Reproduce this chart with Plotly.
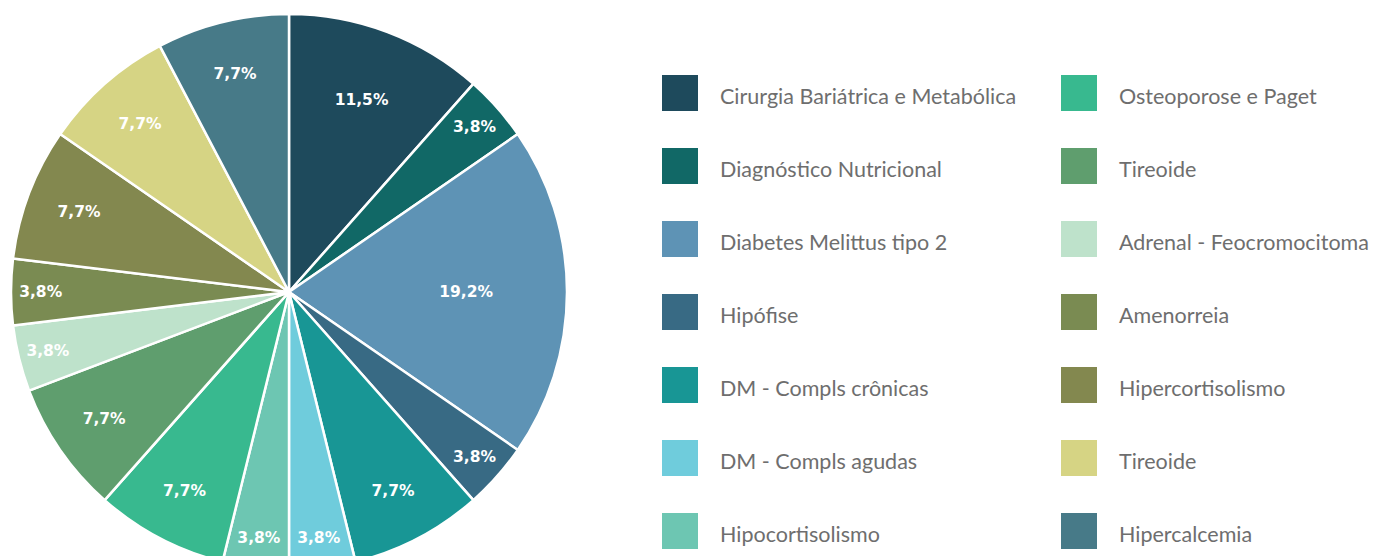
import plotly.graph_objects as go

# data (clockwise from 12 o'clock)
categories = [
    "Cirurgia Bariátrica e Metabólica",
    "Diagnóstico Nutricional",
    "Diabetes Melittus tipo 2",
    "Hipófise",
    "DM - Compls crônicas",
    "DM - Compls agudas",
    "Hipocortisolismo",
    "Osteoporose e Paget",
    "Tireoide",
    "Adrenal - Feocromocitoma",
    "Amenorreia",
    "Hipercortisolismo",
    "Tireoide ",
    "Hipercalcemia",
]
counts = [3, 1, 5, 1, 2, 1, 1, 2, 2, 1, 1, 2, 2, 2]
colors = [
    "#1e4a5c", "#116866", "#5e93b5", "#386a84", "#189695", "#6fccdc", "#6dc6b2",
    "#38b98f", "#5f9e6e", "#bee2cb", "#7a8b52", "#83884f", "#d6d484", "#477a88",
]

# page has an 8px body margin; the pie runs off the bottom of the window
W, H = 1381, 570
px = lambda x: x / W
py = lambda y: 1 - y / H

fig = go.Figure()
fig.add_trace(go.Pie(
    labels=categories,
    values=counts,
    sort=False,
    direction="clockwise",
    rotation=0,
    marker=dict(colors=colors, line=dict(color="white", width=2.5)),
    texttemplate="%{percent:.1%}",
    textposition="inside",
    insidetextorientation="horizontal",
    textfont=dict(family="DejaVu Sans", size=15.5, color="white", weight="bold"),
    domain=dict(x=[px(3), px(559)], y=[py(562), py(6)]),
    showlegend=False,
    hoverinfo="label+percent",
))

# legend drawn as two columns of swatches + labels
col_x = [654, 1053]
row_y0, row_dy, n_rows = 85, 73, 7
shapes, annotations = [], []
for i, (name, c) in enumerate(zip(categories, colors)):
    col, row = divmod(i, n_rows)
    x0 = col_x[col]
    yc = row_y0 + row * row_dy
    shapes.append(dict(type="rect", xref="paper", yref="paper",
                       x0=px(x0), x1=px(x0 + 36), y0=py(yc + 18), y1=py(yc - 18),
                       fillcolor=c, line=dict(width=0)))
    annotations.append(dict(text=name.strip(), xref="paper", yref="paper",
                            x=px(x0 + 56), y=py(yc + 3), xanchor="left", yanchor="middle",
                            showarrow=False,
                            font=dict(family="Lato", size=21.5, color="#6e6e6e")))

fig.update_layout(
    width=W, height=H,
    margin=dict(l=0, r=0, t=0, b=0),
    paper_bgcolor="white",
    plot_bgcolor="white",
    separators=",.",
    shapes=shapes,
    annotations=annotations,
)

fig.write_html("out.html")
